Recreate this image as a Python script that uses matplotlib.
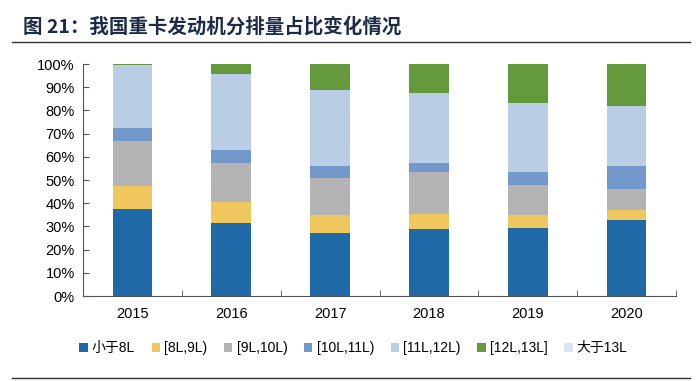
import numpy as np
import matplotlib.pyplot as plt
from matplotlib.lines import Line2D

plt.rcParams['font.family'] = ['Liberation Sans', 'Noto Sans CJK SC', 'DejaVu Sans']

years = ['2015', '2016', '2017', '2018', '2019', '2020']
labels = ['小于8L', '[8L,9L)', '[9L,10L)', '[10L,11L)', '[11L,12L)', '[12L,13L]', '大于13L']
colors = ['#1f69a6', '#f0c75e', '#b4b4b4', '#7399cc', '#b9cde5', '#649a3c', '#dbe5f1']

# shares (%) per year
s_lt8 = [37.5, 31.6, 27.2, 28.8, 29.3, 32.6]
s_8_9 = [9.8, 8.9, 7.5, 6.7, 5.4, 4.6]
s_9_10 = [19.6, 16.9, 16.2, 18.0, 13.2, 8.9]
s_10_11 = [5.6, 5.6, 5.2, 4.0, 5.6, 10.0]
s_11_12 = [27.1, 32.8, 32.8, 29.8, 29.8, 25.7]
s_12_13 = [0.4, 4.2, 11.1, 12.7, 16.7, 18.2]
s_gt13 = [0, 0, 0, 0, 0, 0]

series = [s_lt8, s_8_9, s_9_10, s_10_11, s_11_12, s_12_13, s_gt13]

fig = plt.figure(figsize=(7, 3.81), dpi=100)
ax = fig.add_axes([83/700, 1-296/381, (676-83)/700, (296-64)/381])

x = np.arange(len(years))
bottom = np.zeros(len(years))
for lab, col, vals in zip(labels, colors, series):
    ax.bar(x, vals, 0.4, bottom=bottom, color=col, label=lab)
    bottom += np.array(vals)

ax.set_xlim(-0.5, len(years) - 0.5)
ax.set_ylim(0, 100)
ax.set_yticks(np.arange(0, 101, 10))
ax.set_yticklabels([f'{v}%' for v in range(0, 101, 10)], fontsize=10.5)
ax.set_xticks(x)
ax.set_xticklabels(years, fontsize=10.5)
ax.set_xticks(np.arange(-0.5, len(years)), minor=True)
ax.tick_params(axis='x', which='major', length=0, pad=8)
ax.tick_params(axis='x', which='minor', direction='in', length=4, color='#555555')
ax.tick_params(axis='y', direction='in', length=4, color='#555555', pad=6)
for s in ['top', 'right']:
    ax.spines[s].set_visible(False)
for s in ['left', 'bottom']:
    ax.spines[s].set_color('#555555')

fig.legend(loc='center', bbox_to_anchor=(0.505, 1-348/381), ncol=7, frameon=False,
           fontsize=10, handlelength=0.6, handleheight=0.6, handletextpad=0.3,
           columnspacing=1.2)

fig.text(23/700, 1-27/381, '图 21：我国重卡发动机分排量占比变化情况', fontsize=14,
         fontweight='bold', color='#1c2b4a', va='center',
         family=['Noto Sans CJK SC', 'DejaVu Sans'])
fig.add_artist(Line2D([12/700, 690/700], [1-42/381, 1-42/381], color='#333333', lw=1))
fig.add_artist(Line2D([12/700, 690/700], [1-378/381, 1-378/381], color='#333333', lw=1))

fig.savefig('out.png', dpi=100)
